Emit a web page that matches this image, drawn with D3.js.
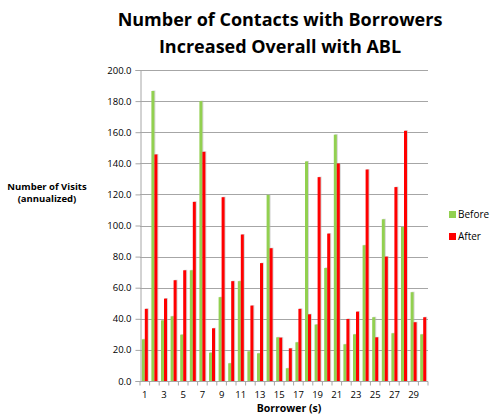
<!DOCTYPE html>
<html>
<head>
<meta charset="utf-8">
<script src="https://cdn.jsdelivr.net/npm/d3@7"></script>
<style>
  body { margin: 0; background: #fff; }
  text { font-family: "Open Sans", "DejaVu Sans", sans-serif; fill: #000; }
  .title { font-size: 18px; font-weight: bold; }
  .axislabel { font-size: 9.5px; font-weight: bold; }
  .xlabel { font-size: 10.5px; font-weight: bold; }
  .tick text { font-size: 9.5px; }
  .legend text { font-size: 10px; }
</style>
</head>
<body>
<div id="chart"></div>
<script>
// borrowers 1..30, annualized visits
var borrowers = d3.range(1, 31);
var before = [26.8, 186.5, 39.0, 41.6, 29.8, 71.2, 180.0, 18.2, 53.9, 11.4,
              64.2, 19.1, 17.8, 119.7, 28.1, 8.2, 24.9, 141.2, 36.3, 72.7,
              158.4, 23.6, 30.0, 87.3, 41.0, 104.0, 30.7, 99.1, 57.1, 30.0];
var after  = [46.4, 145.7, 53.0, 64.8, 71.2, 115.2, 147.4, 33.9, 118.2, 64.2,
              94.2, 48.5, 75.8, 85.4, 27.9, 21.0, 46.4, 42.9, 131.1, 94.8,
              139.9, 39.9, 44.6, 136.0, 28.1, 80.0, 124.7, 160.9, 37.8, 41.0];
var seriesNames = ["Before", "After"];
var seriesColors = ["#92d050", "#ff0000"];
var yTicks = d3.range(0, 201, 20);

var W = 491, H = 416;
var margin = {left: 140, top: 70, right: 63, bottom: 35};

var svg = d3.select("#chart").append("svg")
  .attr("width", W)
  .attr("height", H);

var x0 = d3.scaleBand()
  .domain(borrowers)
  .range([margin.left, W - margin.right])
  .padding(0);

var x1 = d3.scaleBand()
  .domain(seriesNames)
  .range([0, x0.bandwidth()])
  .paddingInner(0)
  .paddingOuter(0.6);

var y = d3.scaleLinear()
  .domain([0, 200])
  .range([H - margin.bottom, margin.top]);

// gridlines
svg.append("g")
  .selectAll("line")
  .data(yTicks.slice(1))
  .enter().append("line")
  .attr("x1", margin.left)
  .attr("x2", W - margin.right)
  .attr("y1", function(d) { return Math.round(y(d)) + 0.5; })
  .attr("y2", function(d) { return Math.round(y(d)) + 0.5; })
  .attr("stroke", "#a6a6a6")
  .attr("stroke-width", 1);

// bars
var rows = borrowers.map(function(b, i) {
  return {b: b, vals: [before[i], after[i]]};
});

var groups = svg.append("g")
  .selectAll("g")
  .data(rows)
  .enter().append("g")
  .attr("transform", function(d) { return "translate(" + x0(d.b) + ",0)"; });

groups.selectAll("rect.shadow")
  .data(function(d) { return d.vals.map(function(v, k) { return {k: k, v: v}; }); })
  .enter().append("rect")
  .attr("class", "shadow")
  .attr("x", function(d) { return x1(seriesNames[d.k]) + 1; })
  .attr("y", function(d) { return y(d.v) - 0.5; })
  .attr("width", x1.bandwidth())
  .attr("height", function(d) { return y(0) - y(d.v) + 0.5; })
  .attr("fill", "#b0b0b0")
  .attr("opacity", 0.5);

groups.selectAll("rect.bar")
  .data(function(d) { return d.vals.map(function(v, k) { return {k: k, v: v}; }); })
  .enter().append("rect")
  .attr("class", "bar")
  .attr("x", function(d) { return x1(seriesNames[d.k]); })
  .attr("y", function(d) { return y(d.v); })
  .attr("width", x1.bandwidth())
  .attr("height", function(d) { return y(0) - y(d.v); })
  .attr("fill", function(d) { return seriesColors[d.k]; });

// y axis
var yAxis = svg.append("g")
  .attr("transform", "translate(" + (margin.left + 0.5) + ",0)")
  .call(d3.axisLeft(y).tickValues(yTicks).tickFormat(d3.format(".1f")).tickSize(5).tickPadding(4));
yAxis.select(".domain").attr("stroke", "#a6a6a6");
yAxis.selectAll(".tick line").attr("stroke", "#a6a6a6");

// x axis: ticks between categories, labels on odd borrowers
var xAxis = svg.append("g")
  .attr("transform", "translate(0," + (Math.round(y(0)) + 0.5) + ")");
xAxis.append("line")
  .attr("x1", margin.left)
  .attr("x2", W - margin.right)
  .attr("stroke", "#a6a6a6");
xAxis.selectAll("line.tk")
  .data(borrowers.concat([31]))
  .enter().append("line")
  .attr("class", "tk")
  .attr("x1", function(d) { return d <= 30 ? x0(d) : x0(30) + x0.bandwidth(); })
  .attr("x2", function(d) { return d <= 30 ? x0(d) : x0(30) + x0.bandwidth(); })
  .attr("y1", 0)
  .attr("y2", 4)
  .attr("stroke", "#a6a6a6");
xAxis.selectAll("text")
  .data(borrowers.filter(function(b) { return b % 2 == 1; }))
  .enter().append("text")
  .attr("x", function(d) { return x0(d) + x0.bandwidth() / 2; })
  .attr("y", 16)
  .attr("text-anchor", "middle")
  .style("font-size", "9.5px")
  .text(function(d) { return d; });

// titles
svg.append("text")
  .attr("class", "title")
  .attr("x", 280).attr("y", 26)
  .attr("text-anchor", "middle")
  .text("Number of Contacts with Borrowers");
svg.append("text")
  .attr("class", "title")
  .attr("x", 280).attr("y", 53)
  .attr("text-anchor", "middle")
  .text("Increased Overall with ABL");

svg.append("text")
  .attr("class", "axislabel")
  .attr("x", 47).attr("y", 190)
  .attr("text-anchor", "middle")
  .text("Number of Visits");
svg.append("text")
  .attr("class", "axislabel")
  .attr("x", 47).attr("y", 202)
  .attr("text-anchor", "middle")
  .text("(annualized)");

svg.append("text")
  .attr("class", "xlabel")
  .attr("x", 289).attr("y", 412)
  .attr("text-anchor", "middle")
  .text("Borrower (s)");

// legend
var legend = svg.append("g").attr("class", "legend")
  .selectAll("g")
  .data(seriesNames)
  .enter().append("g")
  .attr("transform", function(d, i) { return "translate(449," + (211 + i * 22) + ")"; });
legend.append("rect")
  .attr("width", 7).attr("height", 7)
  .attr("fill", function(d, i) { return seriesColors[i]; });
legend.append("text")
  .attr("x", 9).attr("y", 7)
  .text(function(d) { return d; });
</script>
</body>
</html>
